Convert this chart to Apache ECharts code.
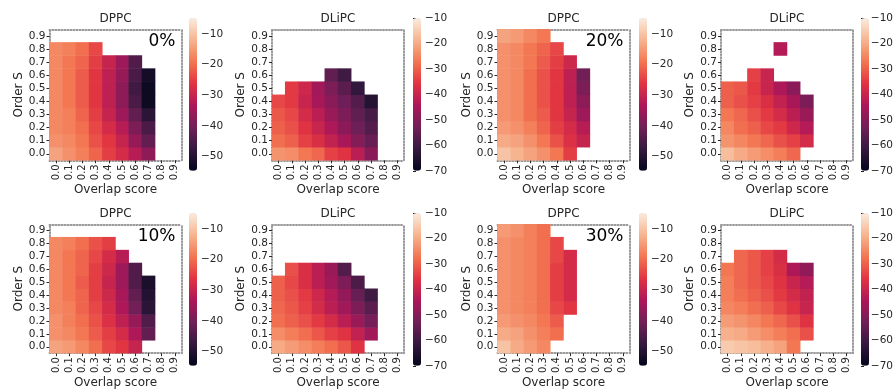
<!DOCTYPE html>
<html>
<head>
<meta charset="utf-8">
<script src="https://cdn.jsdelivr.net/npm/echarts@6/dist/echarts.min.js"></script>
<style>
html,body{margin:0;padding:0;background:#fff}
#main{width:896px;height:390px}
</style>
</head>
<body>
<div id="main"></div>
<script>
// tick labels of both heatmap axes (bottom to top / left to right)
var xCats = ['0.0','0.1','0.2','0.3','0.4','0.5','0.6','0.7','0.8','0.9'];
var yCats = ['0.0','0.1','0.2','0.3','0.4','0.5','0.6','0.7','0.8','0.9'];
var _ = null;

// each array: rows for Order S = 0.0 .. 0.9, columns overlap score 0.0 .. 0.9
var dppc0 = [
	[-14,-16,-18,-21,-25,-28,-32,-37,_,_],
	[-16,-17,-19,-23,-26,-30,-36,-42,_,_],
	[-17,-18,-20,-24,-28,-32,-39,-45,_,_],
	[-17,-18,-21,-25,-30,-35,-42,-49,_,_],
	[-17,-19,-22,-26,-31,-37,-45,-53,_,_],
	[-17,-19,-22,-26,-31,-37,-46,-53,_,_],
	[-17,-19,-22,-26,-31,-36,-45,-52,_,_],
	[-17,-19,-21,-25,-30,-35,-44,_,_,_],
	[-17,-18,-20,-24,_,_,_,_,_,_],
	[_,_,_,_,_,_,_,_,_,_]
];
var dlipc0 = [
	[-23,-24,-27,-29,-34,-36,-42,-49,_,_],
	[-28,-30,-34,-37,-41,-45,-50,-54,_,_],
	[-30,-32,-36,-40,-44,-49,-53,-57,_,_],
	[-31,-33,-38,-42,-47,-51,-55,-59,_,_],
	[-33,-35,-40,-45,-49,-53,-57,-64,_,_],
	[_,-35,-39,-46,-51,-56,-62,_,_,_],
	[_,_,_,_,-55,-60,_,_,_,_],
	[_,_,_,_,_,_,_,_,_,_],
	[_,_,_,_,_,_,_,_,_,_],
	[_,_,_,_,_,_,_,_,_,_]
];
var dppc20 = [
	[-10,-12,-14,-16,-19,-25,_,_,_,_],
	[-13,-14,-16,-19,-23,-27,-30,_,_,_],
	[-15,-16,-18,-21,-25,-28,-32,_,_,_],
	[-16,-17,-20,-22,-26,-30,-35,_,_,_],
	[-16,-17,-20,-23,-26,-31,-37,_,_,_],
	[-16,-17,-20,-23,-26,-31,-39,_,_,_],
	[-16,-17,-20,-23,-26,-31,-40,_,_,_],
	[-16,-17,-19,-22,-25,-29,_,_,_,_],
	[-16,-17,-19,-21,-24,_,_,_,_,_],
	[-14,-15,-17,-19,_,_,_,_,_,_]
];
var dlipc20 = [
	[-17,-20,-22,-24,-26,-29,_,_,_,_],
	[-23,-25,-27,-29,-32,-34,-38,_,_,_],
	[-25,-28,-30,-33,-35,-39,-43,_,_,_],
	[-27,-29,-32,-35,-38,-42,-47,_,_,_],
	[-30,-32,-34,-37,-41,-45,-51,_,_,_],
	[-30,-31,-35,-40,-44,-49,_,_,_,_],
	[_,_,-34,-40,_,_,_,_,_,_],
	[_,_,_,_,_,_,_,_,_,_],
	[_,_,_,_,-43,_,_,_,_,_],
	[_,_,_,_,_,_,_,_,_,_]
];
var dppc10 = [
	[-14,-15,-17,-20,-24,-26,-30,_,_,_],
	[-16,-17,-19,-22,-25,-28,-33,-42,_,_],
	[-16,-18,-20,-23,-27,-31,-36,-44,_,_],
	[-17,-18,-21,-24,-28,-33,-40,-49,_,_],
	[-17,-19,-21,-25,-29,-34,-42,-50,_,_],
	[-17,-19,-22,-25,-30,-35,-44,-51,_,_],
	[-17,-19,-21,-25,-29,-35,-44,_,_,_],
	[-17,-19,-21,-24,-28,-32,_,_,_,_],
	[-17,-18,-20,-23,-25,_,_,_,_,_],
	[_,_,_,_,_,_,_,_,_,_]
];
var dlipc10 = [
	[-20,-22,-24,-26,-28,-31,-36,_,_,_],
	[-24,-26,-28,-31,-34,-36,-41,-46,_,_],
	[-28,-30,-32,-35,-38,-42,-47,-52,_,_],
	[-29,-31,-34,-38,-42,-46,-51,-56,_,_],
	[-30,-32,-35,-39,-43,-48,-54,-60,_,_],
	[-30,-33,-37,-42,-46,-51,-58,_,_,_],
	[_,-32,-37,-42,-47,-57,_,_,_,_],
	[_,_,_,_,_,_,_,_,_,_],
	[_,_,_,_,_,_,_,_,_,_],
	[_,_,_,_,_,_,_,_,_,_]
];
var dppc30 = [
	[-10,-13,-15,-17,_,_,_,_,_,_],
	[-13,-14,-16,-18,-20,_,_,_,_,_],
	[-15,-16,-17,-19,-22,_,_,_,_,_],
	[-16,-17,-18,-20,-24,-26,_,_,_,_],
	[-16,-17,-18,-20,-25,-28,_,_,_,_],
	[-16,-17,-18,-20,-25,-28,_,_,_,_],
	[-16,-17,-18,-20,-25,-28,_,_,_,_],
	[-16,-17,-18,-20,-24,-28,_,_,_,_],
	[-16,-17,-18,-20,-24,_,_,_,_,_],
	[-15,-16,-18,-20,_,_,_,_,_,_]
];
var dlipc30 = [
	[-15,-16,-17,-19,-21,-27,_,_,_,_],
	[-19,-20,-22,-24,-26,-28,-32,_,_,_],
	[-22,-23,-25,-27,-29,-32,-36,_,_,_],
	[-25,-26,-28,-30,-33,-36,-40,_,_,_],
	[-26,-28,-30,-32,-35,-38,-41,_,_,_],
	[-26,-29,-31,-33,-36,-40,-43,_,_,_],
	[-27,-29,-31,-34,-37,-44,-48,_,_,_],
	[_,-29,-31,-34,-38,_,_,_,_,_],
	[_,_,_,_,_,_,_,_,_,_],
	[_,_,_,_,_,_,_,_,_,_]
];

// colour bar ranges and ticks
var dppcRange = [-54.6, -4.9];
var dlipcRange = [-70, -10];
var dppcTicks = [-50, -40, -30, -20, -10];
var dlipcTicks = [-70, -60, -50, -40, -30, -20, -10];

// seaborn "rocket"
var rocket = ['#03051a','#35193e','#701f57','#ad1759','#e13342','#f37651','#f6b48f','#faebdd'];

var FONT = 'DejaVu Sans';
var TXT = '#262626';

var panels = [
	{name:'DPPC',  tag:'0%',  data:dppc0,   col:0, row:0},
	{name:'DLiPC', tag:'',    data:dlipc0,  col:1, row:0},
	{name:'DPPC',  tag:'20%', data:dppc20,  col:2, row:0},
	{name:'DLiPC', tag:'',    data:dlipc20, col:3, row:0},
	{name:'DPPC',  tag:'10%', data:dppc10,  col:0, row:1},
	{name:'DLiPC', tag:'',    data:dlipc10, col:1, row:1},
	{name:'DPPC',  tag:'30%', data:dppc30,  col:2, row:1},
	{name:'DLiPC', tag:'',    data:dlipc30, col:3, row:1}
];

var gridLeft = [49.5, 272, 497.5, 721];
var cbLeft = [189, 413, 639, 861];
var gridTop = [29.3, 224.3];
var GW = 132, GH = 131;
var CB_W = 8, CB_OFF = -11, CB_H = 152.5;

var option = {
	animation: false,
	textStyle: {fontFamily: FONT},
	grid: [], xAxis: [], yAxis: [], series: [], visualMap: [], title: []
};

function cells(rows) {
	var out = [];
	rows.forEach(function(r, yi) {
		r.forEach(function(v, xi) {
			if (v !== null) out.push([xi, yi, v]);
		});
	});
	return out;
}

function minus(v) { return String(v).replace('-', '\u2212'); }

panels.forEach(function(p) {
	var L = gridLeft[p.col], T = gridTop[p.row];
	var isDppc = p.name === 'DPPC';
	var range = isDppc ? dppcRange : dlipcRange;
	var ticks = isDppc ? dppcTicks : dlipcTicks;
	// dotted frame, like the minor ticks round the reference axes
	var dotted = {show: true, lineStyle: {color: '#999', width: 2, type: [1, 2]}};

	// heatmap grid
	var g = option.grid.length;
	option.grid.push({left: L, top: T, width: GW, height: GH});
	var xi = option.xAxis.length;
	option.xAxis.push({
		type: 'category', gridIndex: g, data: xCats, position: 'bottom',
		name: 'Overlap score', nameLocation: 'middle', nameGap: 22,
		nameTextStyle: {fontSize: 12, color: TXT, fontFamily: FONT},
		axisLine: dotted,
		axisTick: {show: true, length: 3, alignWithLabel: true, interval: 0, lineStyle: {color: TXT}},
		axisLabel: {rotate: 90, interval: 0, fontSize: 10, color: TXT, margin: 4, fontFamily: FONT},
		splitLine: {show: false}
	});
	option.xAxis.push({
		type: 'category', gridIndex: g, data: xCats, position: 'top',
		axisLine: dotted, axisTick: {show: false}, axisLabel: {show: false}, splitLine: {show: false}
	});
	var yi = option.yAxis.length;
	option.yAxis.push({
		type: 'category', gridIndex: g, data: yCats, position: 'left',
		name: 'Order S', nameLocation: 'middle', nameGap: 25,
		nameTextStyle: {fontSize: 12, color: TXT, fontFamily: FONT},
		axisLine: dotted,
		axisTick: {show: true, length: 3, alignWithLabel: true, interval: 0, lineStyle: {color: TXT}},
		axisLabel: {interval: 0, fontSize: 10.5, color: TXT, margin: 4, fontFamily: FONT},
		splitLine: {show: false}
	});
	option.yAxis.push({
		type: 'category', gridIndex: g, data: yCats, position: 'right',
		axisLine: dotted, axisTick: {show: false}, axisLabel: {show: false}, splitLine: {show: false}
	});

	var si = option.series.length;
	option.series.push({
		type: 'heatmap', xAxisIndex: xi, yAxisIndex: yi,
		data: cells(p.data),
		itemStyle: {borderWidth: 0, opacity: 1},
		emphasis: {disabled: true}
	});

	// colour bar
	var cbTop = T + CB_OFF;
	option.visualMap.push({
		type: 'continuous', seriesIndex: si,
		min: range[0], max: range[1],
		inRange: {color: rocket},
		left: cbLeft[p.col], top: cbTop,
		itemWidth: CB_W, itemHeight: CB_H,
		padding: 0, calculable: false, hoverLink: false
	});
	var cg = option.grid.length;
	option.grid.push({left: cbLeft[p.col], top: cbTop, width: CB_W, height: CB_H});
	option.xAxis.push({type: 'value', gridIndex: cg, show: false, min: 0, max: 1});
	option.yAxis.push({
		type: 'value', gridIndex: cg, position: 'right',
		min: range[0], max: range[1],
		axisLine: {show: false},
		axisTick: {show: true, length: 3, customValues: ticks, lineStyle: {color: TXT}},
		axisLabel: {customValues: ticks, fontSize: 10.5, color: TXT, margin: 4, fontFamily: FONT, formatter: minus},
		splitLine: {show: false}
	});

	// titles
	option.title.push({
		text: p.name, left: L + GW / 2, top: T - 16, textAlign: 'center', padding: 0,
		textStyle: {fontSize: 12, fontWeight: 'normal', color: TXT, fontFamily: FONT}
	});
	if (p.tag) {
		option.title.push({
			text: p.tag, left: L + GW - 6, top: T + 4, textAlign: 'right', padding: 0,
			textStyle: {fontSize: 17, fontWeight: 'normal', color: '#000', fontFamily: FONT}
		});
	}
});

var chart = echarts.init(document.getElementById('main'), null, {renderer: 'canvas'});
chart.setOption(option);
</script>
</body>
</html>
